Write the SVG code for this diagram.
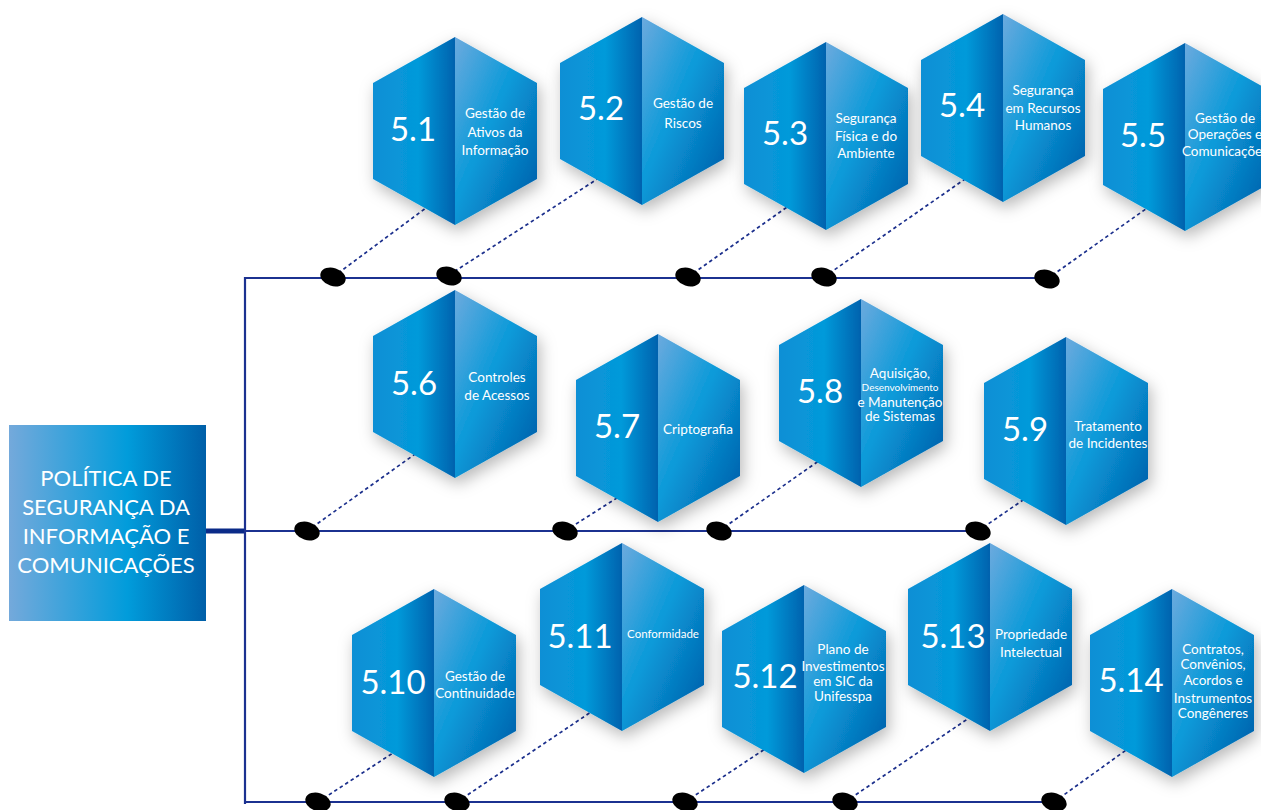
<svg xmlns="http://www.w3.org/2000/svg" xmlns:xlink="http://www.w3.org/1999/xlink" width="1261" height="810" viewBox="0 0 1261 810">
<style>
.num{font-family:Lato,"Liberation Sans",sans-serif;font-weight:400;font-size:33px;fill:#fff;text-anchor:middle}
.lbl{font-family:Lato,"Liberation Sans",sans-serif;font-size:13.5px;fill:#fff;text-anchor:middle}
.sm{font-size:10px}
.title{font-family:Lato,"Liberation Sans",sans-serif;font-size:22px;fill:#fff;text-anchor:middle}
.bus{stroke:#1b3190;stroke-width:2.2;fill:none}
.dash{stroke:#1b2f8c;stroke-width:1.7;stroke-dasharray:3.5 3;fill:none}
.dot{fill:#000}
</style>
<defs>
<linearGradient id="gL" x1="0" y1="0" x2="1" y2="0">
<stop offset="0" stop-color="#0a8fd5"/><stop offset="0.55" stop-color="#059ada"/><stop offset="1" stop-color="#0062ae"/>
</linearGradient>
<linearGradient id="gR" x1="0" y1="0" x2="1" y2="1">
<stop offset="0" stop-color="#6caade"/><stop offset="0.45" stop-color="#0a9ad9"/><stop offset="1" stop-color="#0058a5"/>
</linearGradient>
<linearGradient id="gBox" x1="0" y1="0" x2="1" y2="0">
<stop offset="0" stop-color="#74a9db"/><stop offset="0.6" stop-color="#019cdb"/><stop offset="1" stop-color="#005fa8"/>
</linearGradient>
<filter id="sh" x="-30%" y="-30%" width="160%" height="160%">
<feDropShadow dx="3" dy="6" stdDeviation="8" flood-color="#000" flood-opacity="0.28"/>
</filter>
<g id="hex" filter="url(#sh)">
<polygon points="0,0 -82,46 -82,142 0,188" fill="url(#gL)"/>
<polygon points="0,0 82,46 82,142 0,188" fill="url(#gR)"/>
</g>
</defs>
<rect width="1261" height="810" fill="#fff"/>

<g id="connectors">
<line x1="206" y1="531" x2="245" y2="531" stroke="#0a2a88" stroke-width="5"/>
<line class="bus" x1="245" y1="277" x2="245" y2="804"/>
<line class="bus" x1="244" y1="278" x2="1047" y2="278"/>
<line class="bus" x1="244" y1="531" x2="985" y2="531"/>
<line class="bus" x1="244" y1="802" x2="1055" y2="802"/>
<line class="dash" x1="333" y1="277" x2="430" y2="205"/>
<line class="dash" x1="449" y1="275" x2="602" y2="176"/>
<line class="dash" x1="688" y1="277" x2="790" y2="205"/>
<line class="dash" x1="824" y1="277" x2="968" y2="177"/>
<line class="dash" x1="1047" y1="279" x2="1150" y2="206"/>
<line class="dash" x1="307" y1="531" x2="418" y2="452"/>
<line class="dash" x1="565" y1="531" x2="620" y2="496"/>
<line class="dash" x1="719" y1="531" x2="820" y2="460"/>
<line class="dash" x1="978" y1="531" x2="1026" y2="498"/>
<line class="dash" x1="318" y1="802" x2="396" y2="751"/>
<line class="dash" x1="457" y1="802" x2="594" y2="710"/>
<line class="dash" x1="685" y1="802" x2="768" y2="747"/>
<line class="dash" x1="845" y1="802" x2="972" y2="716"/>
<line class="dash" x1="1054" y1="802" x2="1129" y2="748"/>
<ellipse class="dot" cx="333" cy="277" rx="13" ry="9" transform="rotate(18 333 277)"/>
<ellipse class="dot" cx="449" cy="276" rx="13" ry="9" transform="rotate(18 449 276)"/>
<ellipse class="dot" cx="688" cy="277" rx="13" ry="9" transform="rotate(18 688 277)"/>
<ellipse class="dot" cx="824" cy="277" rx="13" ry="9" transform="rotate(18 824 277)"/>
<ellipse class="dot" cx="1047" cy="279" rx="13" ry="9" transform="rotate(18 1047 279)"/>
<ellipse class="dot" cx="307" cy="531" rx="13" ry="9" transform="rotate(18 307 531)"/>
<ellipse class="dot" cx="565" cy="531" rx="13" ry="9" transform="rotate(18 565 531)"/>
<ellipse class="dot" cx="719" cy="531" rx="13" ry="9" transform="rotate(18 719 531)"/>
<ellipse class="dot" cx="978" cy="531" rx="13" ry="9" transform="rotate(18 978 531)"/>
<ellipse class="dot" cx="318" cy="802" rx="13" ry="9" transform="rotate(18 318 802)"/>
<ellipse class="dot" cx="457" cy="802" rx="13" ry="9" transform="rotate(18 457 802)"/>
<ellipse class="dot" cx="685" cy="802" rx="13" ry="9" transform="rotate(18 685 802)"/>
<ellipse class="dot" cx="845" cy="802" rx="13" ry="9" transform="rotate(18 845 802)"/>
<ellipse class="dot" cx="1054" cy="802" rx="13" ry="9" transform="rotate(18 1054 802)"/>
</g>

<g id="root">
<rect x="9" y="425" width="197" height="196" fill="url(#gBox)"/>
<text class="title" x="106" y="486">POLÍTICA DE</text>
<text class="title" x="106" y="515">SEGURANÇA DA</text>
<text class="title" x="106" y="544">INFORMAÇÃO E</text>
<text class="title" x="106" y="573">COMUNICAÇÕES</text>
</g>

<g id="n5_1"><use xlink:href="#hex" x="455" y="37"/>
<text class="num" x="413" y="141">5.1</text>
<text class="lbl" x="495" y="118">Gestão de</text><text class="lbl" x="495" y="137">Ativos da</text><text class="lbl" x="495" y="155">Informação</text></g>

<g id="n5_2"><use xlink:href="#hex" x="642" y="17"/>
<text class="num" x="601" y="120">5.2</text>
<text class="lbl" x="683" y="108">Gestão de</text><text class="lbl" x="683" y="128">Riscos</text></g>

<g id="n5_3"><use xlink:href="#hex" x="826" y="42"/>
<text class="num" x="785" y="145">5.3</text>
<text class="lbl" x="866" y="123">Segurança</text><text class="lbl" x="866" y="141">Física e do</text><text class="lbl" x="866" y="158">Ambiente</text></g>

<g id="n5_4"><use xlink:href="#hex" x="1003" y="14"/>
<text class="num" x="962" y="117">5.4</text>
<text class="lbl" x="1043" y="95">Segurança</text><text class="lbl" x="1043" y="113">em Recursos</text><text class="lbl" x="1043" y="130">Humanos</text></g>

<g id="n5_5"><use xlink:href="#hex" x="1185" y="43"/>
<text class="num" x="1143" y="147">5.5</text>
<text class="lbl" x="1225" y="123">Gestão de</text><text class="lbl" x="1225" y="139">Operações e</text><text class="lbl" x="1225" y="156">Comunicações</text></g>

<g id="n5_6"><use xlink:href="#hex" x="455" y="290"/>
<text class="num" x="414" y="395">5.6</text>
<text class="lbl" x="497" y="382">Controles</text><text class="lbl" x="497" y="400">de Acessos</text></g>

<g id="n5_7"><use xlink:href="#hex" x="658" y="334"/>
<text class="num" x="617" y="438">5.7</text>
<text class="lbl" x="698" y="434">Criptografia</text></g>

<g id="n5_8"><use xlink:href="#hex" x="861" y="299"/>
<text class="num" x="820" y="403">5.8</text>
<text class="lbl" x="900" y="378">Aquisição,</text><text class="lbl sm" x="900" y="391">Desenvolvimento</text><text class="lbl" x="900" y="407">e Manutenção</text><text class="lbl" x="900" y="421">de Sistemas</text></g>

<g id="n5_9"><use xlink:href="#hex" x="1066" y="337"/>
<text class="num" x="1025" y="441">5.9</text>
<text class="lbl" x="1108" y="431">Tratamento</text><text class="lbl" x="1108" y="448">de Incidentes</text></g>

<g id="n5_10"><use xlink:href="#hex" x="434" y="589"/>
<text class="num" x="393" y="694">5.10</text>
<text class="lbl" x="475" y="681">Gestão de</text><text class="lbl" x="475" y="698">Continuidade</text></g>

<g id="n5_11"><use xlink:href="#hex" x="622" y="543"/>
<text class="num" x="580" y="648">5.11</text>
<text class="lbl" x="663" y="638" style="font-size:11.5px">Conformidade</text></g>

<g id="n5_12"><use xlink:href="#hex" x="804" y="585"/>
<text class="num" x="765" y="688">5.12</text>
<text class="lbl" x="843" y="654">Plano de</text><text class="lbl" x="843" y="671">Investimentos</text><text class="lbl" x="843" y="686">em SIC da</text><text class="lbl" x="843" y="701">Unifesspa</text></g>

<g id="n5_13"><use xlink:href="#hex" x="990" y="543"/>
<text class="num" x="953" y="648">5.13</text>
<text class="lbl" x="1031" y="639">Propriedade</text><text class="lbl" x="1031" y="657">Intelectual</text></g>

<g id="n5_14"><use xlink:href="#hex" x="1172" y="589"/>
<text class="num" x="1131" y="692">5.14</text>
<text class="lbl" x="1213" y="654">Contratos,</text><text class="lbl" x="1213" y="669">Convênios,</text><text class="lbl" x="1213" y="685">Acordos e</text><text class="lbl" x="1213" y="703">Instrumentos</text><text class="lbl" x="1213" y="718">Congêneres</text></g>
</svg>
